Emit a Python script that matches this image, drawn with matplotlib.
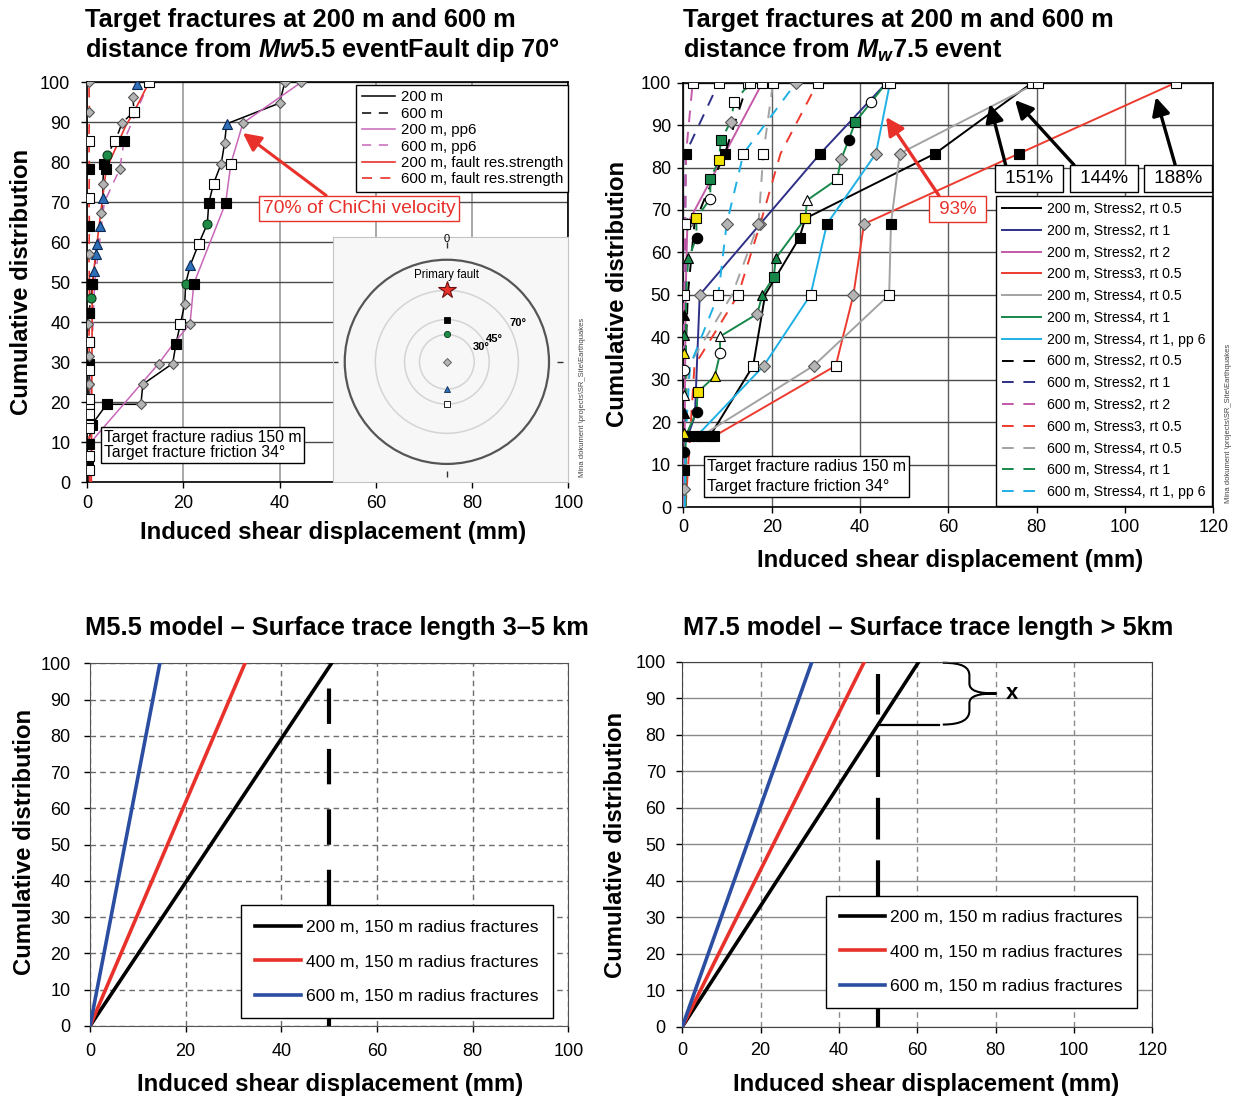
import numpy as np
import matplotlib.pyplot as plt
from matplotlib.patches import Circle, PathPatch
from matplotlib.path import Path

plt.rcParams['font.family'] = 'Liberation Sans'
plt.rcParams['mathtext.fontset'] = 'custom'
plt.rcParams['mathtext.rm'] = 'Liberation Sans:bold'
plt.rcParams['mathtext.it'] = 'Liberation Sans:bold:italic'
plt.rcParams['legend.fancybox'] = False
plt.rcParams['legend.edgecolor'] = 'black'
plt.rcParams['legend.framealpha'] = 1.0

# ---------------- M5.5 event, fault dip 70 (upper left) ----------------
tl_200_x = [0.3, 1.0, 4.1, 11.2, 11.6, 17.8, 18.5, 19.4, 20.3, 20.5, 21.5, 23.2, 25.0, 25.3, 26.3, 27.9, 28.6, 29.0, 40.0, 41.1]
tl_200_y = [9.6, 14.4, 19.5, 19.5, 24.5, 29.7, 34.7, 39.6, 44.5, 49.7, 54.4, 59.6, 64.6, 69.8, 74.7, 79.7, 84.9, 89.6, 94.8, 100]
tl_200_m = 'gssdddswdgtwgswddtdd'

tl_600_x = [0.2, 0.3, 0.3, 0.4, 0.4, 0.4, 0.5, 0.5, 0.3, 0.4, 0.8, 1.1, 1.5, 1.8, 2.1, 2.8, 3.0, 3.3, 3.3, 3.5, 4.2, 5.9, 7.3, 9.8, 9.5, 10.4]
tl_600_y = [0, 4.6, 9.6, 14.4, 19.5, 24.5, 29.7, 35.2, 39.5, 42.3, 46.0, 49.7, 52.9, 57.0, 59.6, 64.1, 67.4, 71.2, 74.7, 79.6, 81.9, 85.4, 89.9, 92.7, 96.3, 99.7]
tl_600_m = '.sswwdswdsgsttttdtdsgwdwdt'

tl_200pp_x = [0.5, 14.9, 18.0, 21.4, 22.2, 28.8, 29.9, 32.4, 44.5]
tl_200pp_y = [9.6, 29.7, 34.7, 39.6, 49.7, 69.8, 79.7, 89.8, 100]
tl_200pp_m = '.d.dsswdd'

tl_600pp_x = [0.6, 0.9, 1.6, 2.6, 3.6, 6.8, 7.7, 12.9]
tl_600pp_y = [0, 30, 50, 60, 70, 78.3, 85.4, 100]
tl_600pp_m = '.....dsd'

tl_200fr_x = [0.9, 1.1, 2.5, 4.0, 8.0, 9.8, 12.9]
tl_200fr_y = [0, 49.7, 64.0, 78.3, 89.0, 92.7, 100]
tl_200fr_m = '.s.s.ww'

tl_600fr_x = [0.6, 0.4, 0.4, 0.5, 0.4, 0.4, 0.4, 0.5, 0.4, 0.5, 0.4, 0.5, 0.5, 0.4, 0.5, 0.4, 0.5, 0.4, 0.5, 0.4]
tl_600fr_y = [0, 3.2, 6.7, 9.6, 13.6, 17.2, 20.9, 24.5, 28.0, 31.7, 35.2, 42.3, 49.7, 57.0, 64.1, 71.2, 78.3, 85.4, 92.7, 100]
tl_600fr_m = '.wwswwwdwdwssdswswdd'

# stereonet of target fracture poles
inset_ring_dips = [70, 45, 30]
inset_fault_dip = 70
inset_pole_dips = [45, 30, 0, 30, 45]
inset_pole_side = [1, 1, 0, -1, -1]
inset_pole_m = 'sgdtw'

# ---------------- M7.5 event (upper right) ----------------
tr_labels = ['Stress2, rt 0.5', 'Stress2, rt 1', 'Stress2, rt 2', 'Stress3, rt 0.5',
             'Stress4, rt 0.5', 'Stress4, rt 1', 'Stress4, rt 1, pp 6']
tr_colors = ['black', '#2e3088', '#c45aa8', '#ec3b2e', '#a3a3a3', '#17874a', '#1fb0e5']

tr200_x = [[6.0, 15.8, 18.5, 26.3, 27.6, 57.0, 79.0],
           [1.0, 2.6, 3.7, 31.0, 46.0],
           [0.2, 0.3, 0.5, 0.9, 17.9],
           [7.0, 34.5, 38.5, 40.9, 76.0, 111.5],
           [4.0, 29.5, 46.6, 47.0, 49.0, 80.2],
           [0.5, 0.5, 3.0, 3.2, 7.1, 8.3, 8.3, 16.7, 17.9, 20.5, 20.9, 27.6, 28.0, 34.8, 35.7, 37.4, 38.9, 42.5, 46.0],
           [3.0, 18.2, 28.8, 32.5, 43.6, 46.8]]
tr200_y = [[16.7, 33.3, 50, 63.5, 68.0, 83.3, 100],
           [16.7, 21.5, 50, 83.3, 100],
           [0, 16.7, 50, 66.7, 100],
           [16.7, 33.3, 50, 66.7, 83.3, 100],
           [16.7, 33.3, 50, 66.7, 83.3, 100],
           [0, 16.7, 22.5, 27.0, 30.8, 36.2, 40.2, 45.5, 50, 54.3, 58.6, 68.0, 72.3, 77.2, 81.9, 86.4, 90.7, 95.4, 100],
           [16.7, 33.3, 50, 66.7, 83.3, 100]]
tr200_m = ['sw.sysw', 's.dsw', '.s.dw', 'swddsw', 'sdwsdw', '.soyYcWdTGTyWwdoGcw', 'sdwsdw']

tr600_x = [[0.2, 0.4, 1.0, 2.5, 4.9, 9.4, 14.6],
           [0.1, 0.2, 0.3, 0.4, 0.5, 8.0],
           [0.1, 0.1, 0.1, 0.1, 0.1, 0.1, 0.1, 0.1, 0.1, 0.1, 0.1, 0.2, 0.6, 2.1],
           [0.5, 1.5, 2.5, 12.4, 17.4, 22.0, 30.4],
           [0.3, 0.6, 1.2, 11.0, 17.0, 18.1, 20.3],
           [0.5, 0.6, 1.1, 3.0, 2.9, 6.1, 6.1, 8.0, 8.5, 10.7, 11.5, 15.1],
           [0.3, 0.5, 1.5, 7.9, 9.8, 13.6, 25.5]]
tr600_y = [[0, 33.3, 50, 66.7, 72.9, 83.3, 100],
           [0, 33.3, 50, 66.7, 83.3, 100],
           [0, 4.2, 8.7, 13.0, 17.5, 22.2, 26.4, 32.4, 36.2, 40.5, 45.2, 50.0, 83.3, 100],
           [0, 16.7, 33.3, 50, 66.7, 83.3, 100],
           [0, 16.7, 33.3, 50, 66.7, 83.3, 100],
           [0, 50, 58.6, 63.5, 68.0, 72.7, 77.2, 81.7, 86.4, 90.8, 95.4, 100],
           [0, 16.7, 33.3, 50, 66.7, 83.3, 100]]
tr600_m = ['.....sw', '...wsw', '.dsoYKWcYTKw.w', '...wd.w', '....dww', '..ToycGyGdww', '...wdwd']

# ---------------- simplified models (bottom) ----------------
model_labels = ['200 m, 150 m radius fractures', '400 m, 150 m radius fractures',
                '600 m, 150 m radius fractures']
model_colors = ['black', '#e8312a', '#2b4ea2']
m55_disp_at_100 = [50.5, 32.4, 14.6]
m75_disp_at_100 = [60.4, 46.5, 33.1]
disp_limit = 50

RED = '#e8312a'
DASH = (0, (6, 5))

MK = {
    's': dict(marker='s', mfc='black', mec='black'),
    'w': dict(marker='s', mfc='white', mec='black'),
    'd': dict(marker='D', mfc='#b4b4b4', mec='#555555'),
    'g': dict(marker='o', mfc='#1e8c46', mec='#0a3a1a'),
    't': dict(marker='^', mfc='#2f6fb8', mec='#0a2a55'),
    'o': dict(marker='o', mfc='black', mec='black'),
    'c': dict(marker='o', mfc='white', mec='black'),
    'y': dict(marker='s', mfc='#f2e200', mec='black'),
    'Y': dict(marker='^', mfc='#f2e200', mec='black'),
    'T': dict(marker='^', mfc='#17874a', mec='black'),
    'G': dict(marker='s', mfc='#17874a', mec='black'),
    'W': dict(marker='^', mfc='white', mec='black'),
    'K': dict(marker='^', mfc='black', mec='black'),
}

W, H = 1246, 1099


def px_box(l, t, r, b):
    return [l / W, 1 - b / H, (r - l) / W, (b - t) / H]


def curve(ax, x, y, codes, color, ls, lw, ms, label=None):
    ax.plot(x, y, color=color, ls=ls, lw=lw, label=label, zorder=3)
    for xi, yi, c in zip(x, y, codes):
        if c in MK:
            size = ms * 0.8 if MK[c]['marker'] == 'D' else ms
            ax.plot(xi, yi, ls='none', ms=size, mew=0.8, zorder=4, **MK[c])


def setup(ax, xmax, ypad, xpad):
    ax.set_xlim(0, xmax)
    ax.set_ylim(0, 100)
    ax.set_xticks(range(0, xmax + 1, 20))
    ax.set_yticks(range(0, 101, 10))
    ax.tick_params(axis='both', labelsize=13, length=4, width=1, direction='out')
    ax.tick_params(axis='y', pad=ypad)
    ax.tick_params(axis='x', pad=xpad)
    ax.set_axisbelow(True)


fig = plt.figure(figsize=(12.46, 10.99), dpi=100)

# ======== upper left ========
ax1 = fig.add_axes(px_box(87, 82.3, 568.3, 482.3))
setup(ax1, 100, 8, 5)
ax1.grid(axis='y', color='#4a4a4a', lw=1)
ax1.grid(axis='x', color='#9a9a9a', lw=1.2)
for sp in ax1.spines.values():
    sp.set_linewidth(1.2)

curve(ax1, tl_200_x, tl_200_y, tl_200_m, 'black', '-', 1.1, 6.5, '200 m')
curve(ax1, tl_600_x, tl_600_y, tl_600_m, 'black', DASH, 1.1, 6.5, '600 m')
curve(ax1, tl_200pp_x, tl_200pp_y, tl_200pp_m, '#c866b8', '-', 1.1, 6.5, '200 m, pp6')
curve(ax1, tl_600pp_x, tl_600pp_y, tl_600pp_m, '#c866b8', DASH, 1.1, 6.5, '600 m, pp6')
curve(ax1, tl_200fr_x, tl_200fr_y, tl_200fr_m, RED, '-', 1.2, 6.5, '200 m, fault res.strength')
curve(ax1, tl_600fr_x, tl_600fr_y, tl_600fr_m, RED, DASH, 1.2, 6.5, '600 m, fault res.strength')

leg1 = ax1.legend(loc='upper right', bbox_to_anchor=(1.0, 0.993), borderaxespad=0,
                  fontsize=10.8, handlelength=2.2, handletextpad=0.4, labelspacing=0.16,
                  borderpad=0.35)
leg1.get_frame().set_linewidth(1)
leg1.set_zorder(6)

ax1.annotate('70% of ChiChi velocity', xy=(32.4, 87.3), xytext=(56.5, 68.5),
             fontsize=13.9, color=RED, ha='center', va='center', zorder=7,
             bbox=dict(boxstyle='square,pad=0.2', fc='white', ec=RED, lw=1),
             arrowprops=dict(arrowstyle='-|>,head_length=0.6,head_width=0.3', color=RED,
                             lw=2.2, mutation_scale=18, relpos=(0.36, 1.0),
                             shrinkA=0, shrinkB=0))
ax1.text(0.035, 0.055, 'Target fracture radius 150 m\nTarget fracture friction 34°',
         transform=ax1.transAxes, fontsize=11.3, ha='left', va='bottom', zorder=7,
         linespacing=1.05,
         bbox=dict(boxstyle='square,pad=0.2', fc='white', ec='black', lw=1))

# stereonet inset
axi = fig.add_axes(px_box(333, 237, 568.3, 482.3))
axi.set_facecolor('#f7f7f7')
axi.set_xlim(-1.115, 1.189)
axi.set_ylim(-1.18, 1.223)
axi.set_xticks([])
axi.set_yticks([])
for sp in axi.spines.values():
    sp.set_color('#c4c4c4')
axi.add_patch(Circle((0, 0), 1.0, fill=False, ec='#555555', lw=1.6))
for dip in inset_ring_dips:
    r = np.tan(np.radians(dip / 2))
    axi.add_patch(Circle((0, 0), r, fill=False, ec='#d4d4d4', lw=1.1))
    a = np.radians(33)
    axi.text(r * np.cos(a) + 0.03, r * np.sin(a), f'{dip}°', fontsize=8,
             fontweight='bold', ha='left', va='center')
r_fault = np.tan(np.radians(inset_fault_dip / 2))
axi.plot(0, r_fault, marker='*', ms=13, mfc='#e8312a', mec='#6a1010', mew=0.8, ls='none')
axi.text(0, r_fault + 0.15, 'Primary fault', fontsize=8.3, ha='center', va='center')
for dip, side, c in zip(inset_pole_dips, inset_pole_side, inset_pole_m):
    r = np.tan(np.radians(dip / 2))
    size = 3.6 if MK[c]['marker'] == 'D' else 4.5
    axi.plot(0, side * r, ls='none', ms=size, mew=0.6, **MK[c])
axi.plot([-1.095, 1.11], [0, 0], ls='none', marker='_', ms=5, mew=1, color='#333333')
axi.plot([0, 0], [-1.095, 1.14], ls='none', marker='|', ms=5, mew=1, color='#333333')
axi.text(0, 1.2, '0', fontsize=8, ha='center', va='center')

# ======== upper right ========
ax2 = fig.add_axes(px_box(683.4, 82.7, 1213.3, 507))
setup(ax2, 120, 5, 5)
ax2.grid(axis='y', color='#4a4a4a', lw=1)
ax2.grid(axis='x', color='#5e5e5e', lw=1)
for sp in ax2.spines.values():
    sp.set_linewidth(1.2)

for x, y, m, col, lab in zip(tr200_x, tr200_y, tr200_m, tr_colors, tr_labels):
    curve(ax2, x, y, m, col, '-', 1.4, 7.5, '200 m, ' + lab)
for x, y, m, col, lab in zip(tr600_x, tr600_y, tr600_m, tr_colors, tr_labels):
    curve(ax2, x, y, m, col, DASH, 1.4, 7.5, '600 m, ' + lab)

leg2 = ax2.legend(loc='lower right', bbox_to_anchor=(1.0, 0.0), borderaxespad=0.1,
                  fontsize=10.2, handlelength=2.7, handletextpad=0.45, labelspacing=0.55,
                  borderpad=0.45)
leg2.get_frame().set_linewidth(1)
leg2.set_zorder(6)

arrow_k = dict(arrowstyle='-|>,head_length=0.6,head_width=0.3', color='black', lw=2.4,
               mutation_scale=18, shrinkA=0, shrinkB=0)
for txt, xy, xyt, rp in [(' 151% ', (69.4, 95.0), (78.3, 77.4), 0.12),
                         (' 144% ', (75.1, 95.9), (95.2, 77.4), 0.07),
                         (' 188% ', (107.0, 96.6), (112.1, 77.4), 0.47)]:
    ax2.annotate(txt, xy=xy, xytext=xyt, fontsize=13.5, ha='center', va='center', zorder=7,
                 bbox=dict(boxstyle='square,pad=0.25', fc='white', ec='black', lw=1),
                 arrowprops=dict(arrow_k, relpos=(rp, 1.0)))
ax2.annotate(' 93% ', xy=(45.9, 91.9), xytext=(62.1, 70.2), fontsize=13.5, color=RED,
             ha='center', va='center', zorder=7,
             bbox=dict(boxstyle='square,pad=0.25', fc='white', ec=RED, lw=1),
             arrowprops=dict(arrowstyle='-|>,head_length=0.6,head_width=0.3', color=RED,
                             lw=2.4, mutation_scale=18, shrinkA=0, shrinkB=0,
                             relpos=(0.18, 1.0)))
ax2.text(0.045, 0.03, 'Target fracture radius 150 m\nTarget fracture friction 34°',
         transform=ax2.transAxes, fontsize=11.4, ha='left', va='bottom', zorder=7,
         linespacing=1.4,
         bbox=dict(boxstyle='square,pad=0.2', fc='white', ec='black', lw=1))

# ======== lower left ========
ax3 = fig.add_axes(px_box(90, 663.3, 568.3, 1026))
setup(ax3, 100, 10, 8)
ax3.grid(color='#6e6e6e', lw=1, ls=(0, (4, 3)))
for sp in ax3.spines.values():
    sp.set_color('#555555')
for end, col, lab in zip(m55_disp_at_100, model_colors, model_labels):
    ax3.plot([0, end], [0, 100], color=col, lw=2.6, label=lab, zorder=3)
ax3.plot([disp_limit, disp_limit], [0, 100], color='black', lw=3, ls=(0, (8.5, 6)), zorder=3)
leg3 = ax3.legend(loc='lower right', bbox_to_anchor=(0.967, 0.021), borderaxespad=0,
                  fontsize=12.6, handlelength=2.6, handletextpad=0.3, labelspacing=1.12,
                  borderpad=0.8)
leg3.get_frame().set_linewidth(1)

# ======== lower right ========
ax4 = fig.add_axes(px_box(682.3, 661.7, 1152.3, 1026.7))
setup(ax4, 120, 8, 7)
ax4.grid(axis='x', color='#8a8a8a', lw=1, ls=(0, (4, 3)))
ax4.grid(axis='y', color='#8a8a8a', lw=1)
for sp in ax4.spines.values():
    sp.set_color('#444444')
for end, col, lab in zip(m75_disp_at_100, model_colors, model_labels):
    ax4.plot([0, end], [0, 100], color=col, lw=2.6, label=lab, zorder=3)
ax4.plot([disp_limit, disp_limit], [0, 96.5], color='black', lw=3, ls=(0, (10, 5)), zorder=3)
y_cross = 100 * disp_limit / m75_disp_at_100[0]
ax4.plot([disp_limit, 65.6], [y_cross, y_cross], color='black', lw=1.6, zorder=3)
verts = [(66.5, 99.7), (71.5, 99.7), (73.3, 98.5), (73.3, 96.2),
         (73.3, 94.1),
         (73.3, 92.0), (75.5, 91.3), (80.2, 91.3),
         (75.5, 91.3), (73.3, 90.6), (73.3, 88.6),
         (73.3, 86.6),
         (73.3, 84.3), (71.5, y_cross), (66.5, y_cross)]
codes = [Path.MOVETO, Path.CURVE4, Path.CURVE4, Path.CURVE4, Path.LINETO,
         Path.CURVE4, Path.CURVE4, Path.CURVE4, Path.CURVE4, Path.CURVE4, Path.CURVE4,
         Path.LINETO, Path.CURVE4, Path.CURVE4, Path.CURVE4]
ax4.add_patch(PathPatch(Path(verts, codes), fc='none', ec='black', lw=1.5, clip_on=False))
ax4.text(84.3, 91.3, 'x', fontsize=16, fontweight='bold', ha='center', va='center')
leg4 = ax4.legend(loc='lower right', bbox_to_anchor=(0.967, 0.05), borderaxespad=0,
                  fontsize=12.6, handlelength=2.6, handletextpad=0.3, labelspacing=1.12,
                  borderpad=0.8)
leg4.get_frame().set_linewidth(1)

# ======== titles and axis labels ========
tkw = dict(fontsize=18.3, fontweight='bold', ha='left', va='center')
fig.text(85 / W, 1 - 20 / H, 'Target fractures at 200 m and 600 m', **tkw)
fig.text(85 / W, 1 - 50 / H, r'distance from $Mw$5.5 eventFault dip 70°', **tkw)
fig.text(683 / W, 1 - 20 / H, 'Target fractures at 200 m and 600 m', **tkw)
fig.text(683 / W, 1 - 50 / H, r'distance from $M_w$7.5 event', **tkw)
fig.text(85 / W, 1 - 628 / H, 'M5.5 model – Surface trace length 3–5 km', **tkw)
fig.text(683 / W, 1 - 628 / H, 'M7.5 model – Surface trace length > 5km', **tkw)

lkw = dict(fontsize=17.2, fontweight='bold', ha='center', va='center')
for (xl, yl), (xb, yb) in [((22, 282), (333, 533)), ((618, 294), (950, 560)),
                           ((25, 842), (330, 1084)), ((615, 845), (926, 1084))]:
    fig.text(xl / W, 1 - yl / H, 'Cumulative distribution', rotation=90, **lkw)
    fig.text(xb / W, 1 - yb / H, 'Induced shear displacement (mm)', **lkw)

for xp, yp in [(582, 397), (1228, 423)]:
    fig.text(xp / W, 1 - yp / H, r'Mina dokument \projects\SR_Site\Earthquakes',
             rotation=90, fontsize=5.5, color='#444444', ha='center', va='center')

fig.savefig('out.png', dpi=100)
